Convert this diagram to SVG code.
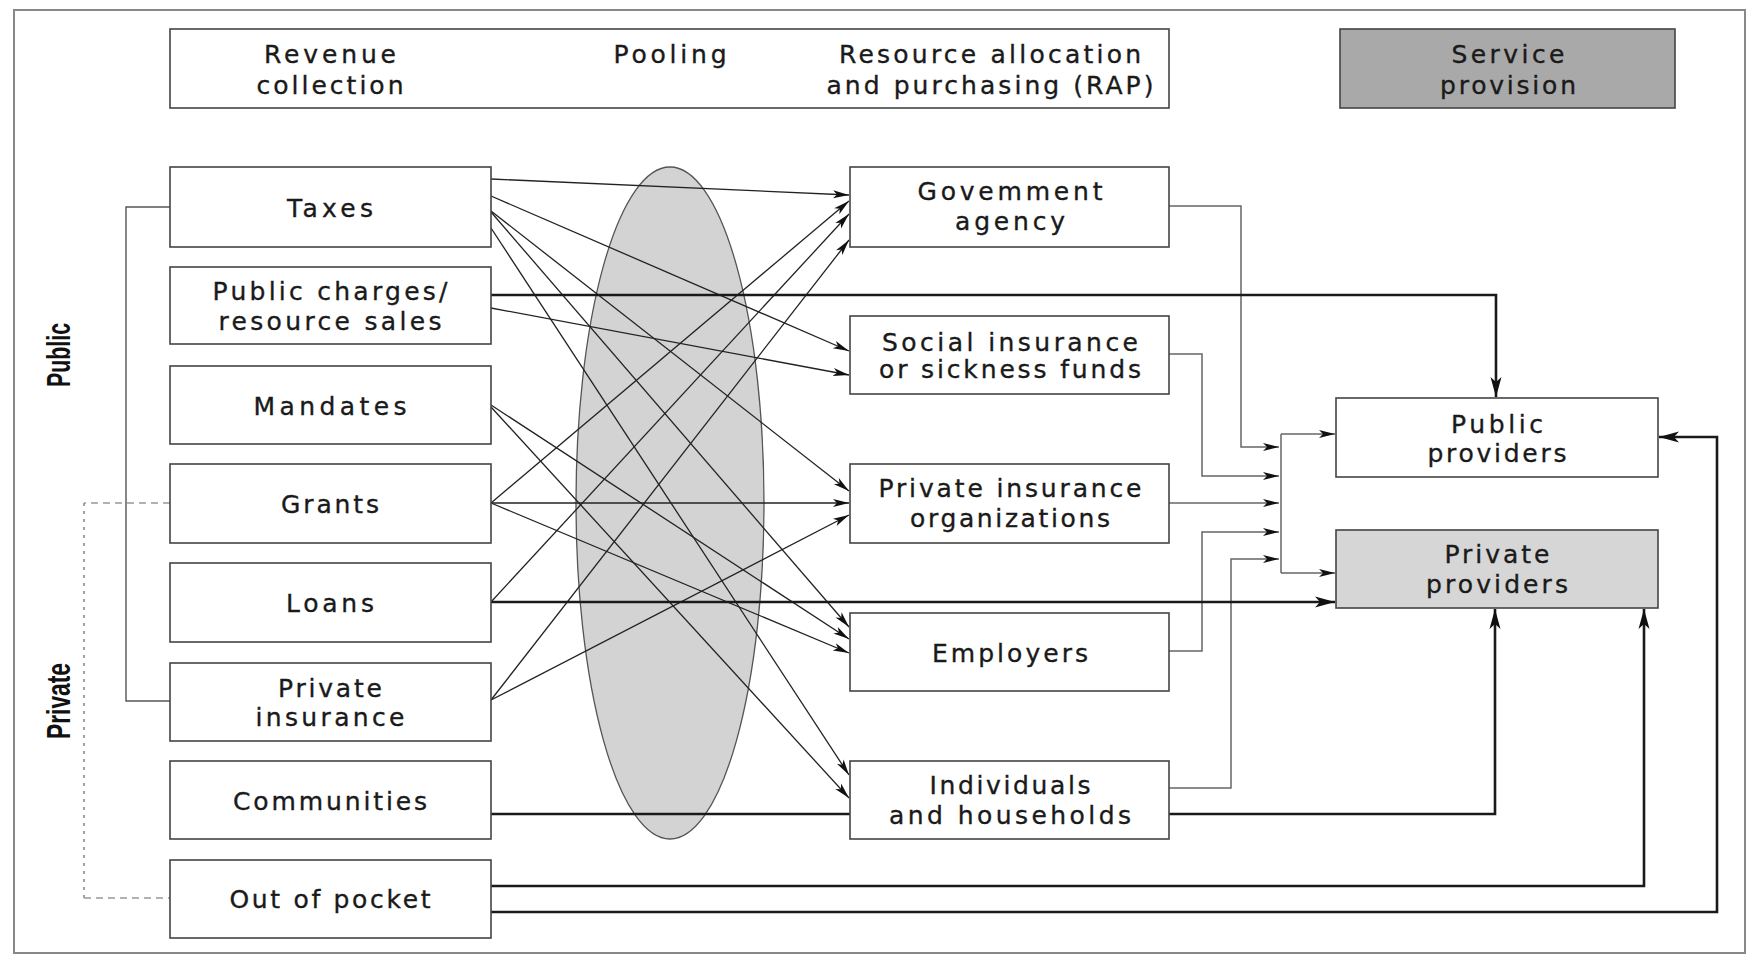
<svg xmlns="http://www.w3.org/2000/svg" width="1750" height="955" viewBox="0 0 1750 955">
<defs>
<style>
.t{font-family:"DejaVu Sans","Liberation Sans",sans-serif;font-size:25px;fill:#1a1a1a;stroke:#1a1a1a;stroke-width:0.35;text-anchor:middle}
.s{font-family:"Liberation Sans",Arial,sans-serif;font-weight:bold;font-size:34px;fill:#111;text-anchor:middle}
.box{fill:#fff;stroke:#444;stroke-width:1.6}
.thin{fill:none;stroke:#222;stroke-width:1.3;marker-end:url(#a)}
.gray{fill:none;stroke:#666;stroke-width:1.5}
.grayA{fill:none;stroke:#666;stroke-width:1.5;marker-end:url(#a)}
.thick{fill:none;stroke:#1a1a1a;stroke-width:2.6}
.thickA{fill:none;stroke:#1a1a1a;stroke-width:2.6;marker-end:url(#A)}
</style>
<marker id="a" markerUnits="userSpaceOnUse" markerWidth="17" markerHeight="11" refX="16" refY="5.5" orient="auto"><path d="M0,1.5 L16,5.5 L0,9.5 L4,5.5 z" fill="#111"/></marker>
<marker id="A" markerUnits="userSpaceOnUse" markerWidth="22" markerHeight="14" refX="20" refY="7" orient="auto"><path d="M0,1.5 L20,7 L0,12.5 L5,7 z" fill="#111"/></marker>
</defs>
<rect x="0" y="0" width="1750" height="955" fill="#fff"/>
<rect id="frame" x="14" y="10" width="1731" height="943" fill="none" stroke="#888" stroke-width="2"/>

<g id="header">
<rect class="box" x="170" y="29" width="999" height="79"/>
<text class="t" x="330" y="63" textLength="132" lengthAdjust="spacing">Revenue</text>
<text class="t" x="330" y="94" textLength="147" lengthAdjust="spacing">collection</text>
<text class="t" x="670" y="63" textLength="113" lengthAdjust="spacing">Pooling</text>
<text class="t" x="990" y="63" textLength="302" lengthAdjust="spacing">Resource allocation</text>
<text class="t" x="990" y="94" textLength="327" lengthAdjust="spacing">and purchasing (RAP)</text>
</g>
<g id="service-provision">
<rect x="1340" y="29" width="335" height="79" fill="#a9a9a9" stroke="#444" stroke-width="1.6"/>
<text class="t" x="1508" y="63" textLength="113" lengthAdjust="spacing">Service</text>
<text class="t" x="1508" y="94" textLength="136" lengthAdjust="spacing">provision</text>
</g>

<g id="side-labels">
<text class="s" transform="translate(70,355) rotate(-90)" textLength="64" lengthAdjust="spacingAndGlyphs">Public</text>
<text class="s" transform="translate(70,701) rotate(-90)" textLength="76" lengthAdjust="spacingAndGlyphs">Private</text>
</g>

<ellipse id="pooling" cx="670" cy="503" rx="94" ry="336" fill="#d3d3d3" stroke="#555" stroke-width="1.3"/>

<g id="connectors">
<path d="M170,207 H126 V701 H170" fill="none" stroke="#555" stroke-width="1.4"/>
<path d="M170,503 H84 M84,898 H170" fill="none" stroke="#999" stroke-width="1.6" stroke-dasharray="7,5"/>
<path d="M84,503 V898" fill="none" stroke="#999" stroke-width="1.8" stroke-dasharray="3,5"/>

<path class="thin" d="M491,179 L849,195"/>
<path class="thin" d="M491,196 L849,351"/>
<path class="thin" d="M491,211 L849,491"/>
<path class="thin" d="M491,212 L849,627"/>
<path class="thin" d="M491,228 L849,775"/>
<path class="thin" d="M491,308 L849,375"/>
<path class="thin" d="M491,405 L849,639"/>
<path class="thin" d="M491,407 L849,798"/>
<path class="thin" d="M491,503 L849,201"/>
<path class="thin" d="M491,503 L849,503"/>
<path class="thin" d="M491,503 L849,653"/>
<path class="thin" d="M491,602 L849,214"/>
<path class="thin" d="M491,700 L849,240"/>
<path class="thin" d="M491,700 L849,515"/>

<path class="grayA" d="M1169,206 H1241 V447 H1279"/>
<path class="grayA" d="M1169,354 H1202 V476 H1279"/>
<path class="grayA" d="M1169,503 H1279"/>
<path class="grayA" d="M1169,651 H1202 V532 H1279"/>
<path class="grayA" d="M1169,788 H1231 V559 H1279"/>
<path class="gray" d="M1281,434 V573"/>
<path class="grayA" d="M1281,434 H1335"/>
<path class="grayA" d="M1281,573 H1335"/>

<path class="thickA" d="M491,295 H1496 V397"/>
<path class="thickA" d="M491,602 H1335"/>
<path class="thickA" d="M491,814 H1495 V609"/>
<path class="thickA" d="M491,886 H1644 V609"/>
<path class="thickA" d="M491,912 H1717 V437 H1659"/>
</g>

<g id="taxes"><rect class="box" x="170" y="167" width="321" height="80"/><text class="t" x="330" y="217" textLength="86" lengthAdjust="spacing">Taxes</text></g>
<g id="public-charges"><rect class="box" x="170" y="267" width="321" height="77"/><text class="t" x="330" y="300" textLength="235" lengthAdjust="spacing">Public charges/</text><text class="t" x="330" y="330" textLength="223" lengthAdjust="spacing">resource sales</text></g>
<g id="mandates"><rect class="box" x="170" y="366" width="321" height="78"/><text class="t" x="330" y="415" textLength="153" lengthAdjust="spacing">Mandates</text></g>
<g id="grants"><rect class="box" x="170" y="464" width="321" height="79"/><text class="t" x="330" y="513" textLength="98" lengthAdjust="spacing">Grants</text></g>
<g id="loans"><rect class="box" x="170" y="563" width="321" height="79"/><text class="t" x="330" y="612" textLength="88" lengthAdjust="spacing">Loans</text></g>
<g id="private-insurance"><rect class="box" x="170" y="663" width="321" height="78"/><text class="t" x="330" y="697" textLength="104" lengthAdjust="spacing">Private</text><text class="t" x="330" y="726" textLength="149" lengthAdjust="spacing">insurance</text></g>
<g id="communities"><rect class="box" x="170" y="761" width="321" height="78"/><text class="t" x="330" y="810" textLength="194" lengthAdjust="spacing">Communities</text></g>
<g id="out-of-pocket"><rect class="box" x="170" y="860" width="321" height="78"/><text class="t" x="330" y="908" textLength="201" lengthAdjust="spacing">Out of pocket</text></g>

<g id="government-agency"><rect class="box" x="850" y="167" width="319" height="80"/><text class="t" x="1010" y="200" textLength="185" lengthAdjust="spacing">Govemment</text><text class="t" x="1010" y="230" textLength="110" lengthAdjust="spacing">agency</text></g>
<g id="social-insurance"><rect class="box" x="850" y="316" width="319" height="78"/><text class="t" x="1010" y="351" textLength="256" lengthAdjust="spacing">Social insurance</text><text class="t" x="1010" y="378" textLength="262" lengthAdjust="spacing">or sickness funds</text></g>
<g id="private-insurance-orgs"><rect class="box" x="850" y="464" width="319" height="79"/><text class="t" x="1010" y="497" textLength="263" lengthAdjust="spacing">Private insurance</text><text class="t" x="1010" y="527" textLength="200" lengthAdjust="spacing">organizations</text></g>
<g id="employers"><rect class="box" x="850" y="613" width="319" height="78"/><text class="t" x="1010" y="662" textLength="156" lengthAdjust="spacing">Employers</text></g>
<g id="individuals"><rect class="box" x="850" y="761" width="319" height="78"/><text class="t" x="1010" y="794" textLength="161" lengthAdjust="spacing">Individuals</text><text class="t" x="1010" y="824" textLength="242" lengthAdjust="spacing">and households</text></g>

<g id="public-providers"><rect class="box" x="1336" y="398" width="322" height="79"/><text class="t" x="1497" y="433" textLength="92" lengthAdjust="spacing">Public</text><text class="t" x="1497" y="462" textLength="139" lengthAdjust="spacing">providers</text></g>
<g id="private-providers"><rect x="1336" y="530" width="322" height="78" fill="#d6d6d6" stroke="#444" stroke-width="1.6"/><text class="t" x="1497" y="563" textLength="105" lengthAdjust="spacing">Private</text><text class="t" x="1497" y="593" textLength="142" lengthAdjust="spacing">providers</text></g>
</svg>
